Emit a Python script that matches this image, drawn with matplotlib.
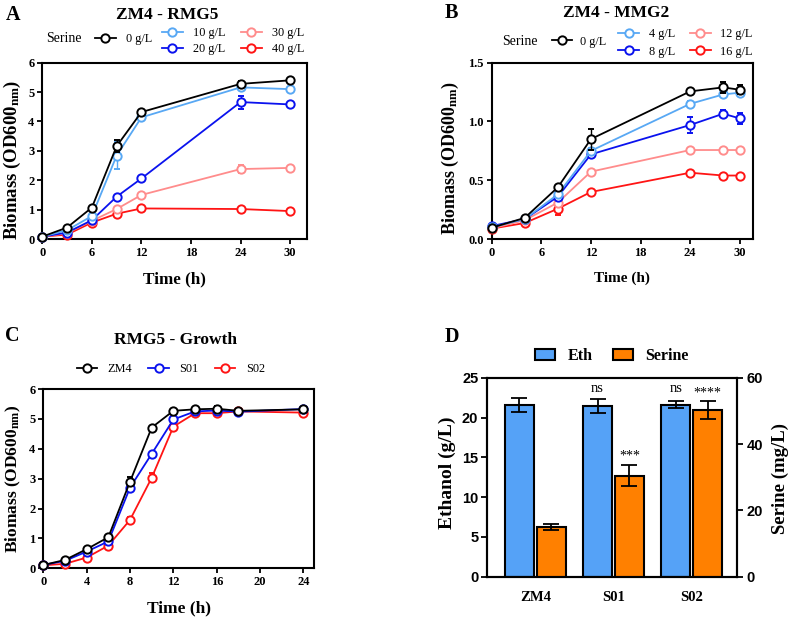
import matplotlib
matplotlib.use('Agg')
import matplotlib.pyplot as plt
from matplotlib.lines import Line2D
from matplotlib.patches import Patch
import numpy as np

plt.rcParams['font.family'] = ['Liberation Serif', 'DejaVu Serif']
plt.rcParams['mathtext.fontset'] = 'custom'
plt.rcParams['mathtext.rm'] = 'Liberation Serif'
plt.rcParams['mathtext.bf'] = 'Liberation Serif:bold'
plt.rcParams['mathtext.it'] = 'Liberation Serif:italic'

# ---------------- Data ----------------
# Panel A: ZM4 - RMG5
a_time = [0, 3, 6, 9, 12, 24, 30]
a_labels = ['0 g/L', '10 g/L', '20 g/L', '30 g/L', '40 g/L']
a_s0 = [0.08, 0.39, 1.07, 3.16, 4.32, 5.28, 5.40]
a_s10 = [0.08, 0.30, 0.78, 2.84, 4.14, 5.16, 5.10]
a_s20 = [0.08, 0.22, 0.64, 1.44, 2.06, 4.66, 4.58]
a_s30 = [0.08, 0.20, 0.62, 1.02, 1.50, 2.38, 2.42]
a_s40 = [0.08, 0.15, 0.56, 0.86, 1.04, 1.02, 0.95]
a_e0 = [0.02, 0.05, 0.05, 0.20, 0.05, 0.10, 0.05]
a_e10 = [0.02, 0.03, 0.05, 0.45, 0.05, 0.05, 0.03]
a_e20 = [0.02, 0.03, 0.05, 0.05, 0.05, 0.22, 0.05]
a_e30 = [0.02, 0.02, 0.03, 0.05, 0.08, 0.15, 0.05]
a_e40 = [0.02, 0.02, 0.03, 0.05, 0.05, 0.05, 0.05]

# Panel B: ZM4 - MMG2
b_time = [0, 4, 8, 12, 24, 28, 30]
b_labels = ['0 g/L', '4 g/L', '8 g/L', '12 g/L', '16 g/L']
b_s0 = [0.096, 0.18, 0.44, 0.85, 1.256, 1.29, 1.27]
b_s4 = [0.10, 0.17, 0.38, 0.75, 1.15, 1.23, 1.245]
b_s8 = [0.11, 0.17, 0.36, 0.72, 0.97, 1.066, 1.026]
b_s12 = [0.09, 0.16, 0.31, 0.573, 0.757, 0.757, 0.757]
b_s16 = [0.088, 0.136, 0.258, 0.40, 0.564, 0.54, 0.54]
b_e0 = [0.01, 0.01, 0.02, 0.09, 0.01, 0.05, 0.04]
b_e4 = [0.01, 0.01, 0.02, 0.02, 0.02, 0.02, 0.03]
b_e8 = [0.01, 0.01, 0.02, 0.02, 0.065, 0.03, 0.05]
b_e12 = [0.01, 0.01, 0.02, 0.01, 0.01, 0.01, 0.01]
b_e16 = [0.01, 0.01, 0.05, 0.01, 0.01, 0.01, 0.01]

# Panel C: RMG5 - Growth
c_time = [0, 2, 4, 6, 8, 10, 12, 14, 16, 18, 24]
c_labels = ['ZM4', 'S01', 'S02']
c_zm4 = [0.11, 0.28, 0.64, 1.04, 2.90, 4.71, 5.27, 5.32, 5.34, 5.27, 5.32]
c_s01 = [0.11, 0.25, 0.56, 0.90, 2.70, 3.83, 4.98, 5.25, 5.28, 5.24, 5.33]
c_s02 = [0.10, 0.15, 0.36, 0.76, 1.62, 3.03, 4.74, 5.19, 5.19, 5.25, 5.21]
c_ezm4 = [0.02, 0.03, 0.05, 0.05, 0.15, 0.05, 0.05, 0.05, 0.08, 0.05, 0.05]
c_es01 = [0.02, 0.03, 0.05, 0.05, 0.10, 0.05, 0.05, 0.05, 0.05, 0.05, 0.05]
c_es02 = [0.02, 0.03, 0.05, 0.05, 0.08, 0.15, 0.08, 0.05, 0.05, 0.05, 0.10]

# Panel D: ethanol and serine
d_strains = ['ZM4', 'S01', 'S02']
d_eth = [21.57, 21.44, 21.60]
d_eth_err = [0.85, 0.90, 0.45]
d_ser = [15.1, 30.5, 50.2]
d_ser_err = [0.9, 3.3, 2.7]
d_eth_sig = ['', 'ns', 'ns']
d_ser_sig = ['', '***', '****']

# ---------------- Style ----------------
W, H = 790, 620
fig = plt.figure(figsize=(7.9, 6.2), dpi=100)

def fx(px):
    return px / W

def fy(py):
    return 1 - py / H

def axes_px(l, t, r, b):
    return fig.add_axes([fx(l), fy(b), (r - l) / W, (b - t) / H])

C_BLACK = '#000000'
C_LBLUE = '#58a8f4'
C_BLUE = '#0a12ee'
C_PINK = '#ff8c8c'
C_RED = '#ff1414'

def style(ax, size=9, family=None):
    for s in ax.spines.values():
        s.set_linewidth(1.5)
    ax.tick_params(direction='out', length=3.6, width=1.3, labelsize=size, pad=2)
    for lab in ax.get_xticklabels() + ax.get_yticklabels():
        lab.set_fontweight('bold')
        if family:
            lab.set_family(family)

def series(ax, x, y, e, c, z):
    ax.errorbar(x, y, yerr=e, color=c, lw=1.3, marker='o', ms=6, mfc='white',
                mec=c, mew=1.4, capsize=2.2, elinewidth=1.0, capthick=1.0,
                clip_on=False, zorder=z)

def handle(c):
    return Line2D([], [], color=c, lw=1.3, marker='o', ms=6, mfc='white', mec=c, mew=1.4)

ylab = 'Biomass (OD600$_{\\mathbf{nm}}$)'

# ---------------- Panel A ----------------
axA = axes_px(42.3, 62.7, 306.7, 239)
for y, e, c, z in zip([a_s40, a_s30, a_s20, a_s10, a_s0],
                      [a_e40, a_e30, a_e20, a_e10, a_e0],
                      [C_RED, C_PINK, C_BLUE, C_LBLUE, C_BLACK],
                      [3, 4, 5, 6, 7]):
    series(axA, a_time, y, e, c, z)
axA.set_xlim(0, 32)
axA.set_ylim(0, 6)
axA.set_xticks([0, 6, 12, 18, 24, 30])
axA.set_yticks(range(0, 7))
style(axA, 9)
axA.set_ylabel(ylab, fontsize=13.5, fontweight='bold')
axA.yaxis.set_label_coords(-0.073, 0.45)
axA.set_xlabel('Time (h)', fontsize=12.3, fontweight='bold')
axA.xaxis.set_label_coords(0.5, -0.185)
fig.text(fx(167.5), fy(15), 'ZM4 - RMG5', fontsize=12.5, fontweight='bold', ha='center', va='center')
fig.text(fx(6), fy(15), 'A', fontsize=14.5, fontweight='bold', ha='left', va='center')
fig.text(fx(45.7), fy(39), 'Serine', fontsize=10, ha='left', va='center')
fig.legend([handle(C_BLACK)], [a_labels[0]], loc='center left',
           bbox_to_anchor=(fx(95), fy(39)), frameon=False, fontsize=8.8,
           handlelength=1.7, handletextpad=0.8, borderpad=0, borderaxespad=0)
fig.legend([handle(C_LBLUE), handle(C_BLUE), handle(C_PINK), handle(C_RED)],
           a_labels[1:], ncol=2, loc='center left',
           bbox_to_anchor=(fx(162), fy(41)), frameon=False, fontsize=8.8,
           handlelength=1.7, handletextpad=0.8, borderpad=0, borderaxespad=0,
           columnspacing=1.3, labelspacing=0.3)

# ---------------- Panel B ----------------
axB = axes_px(491.7, 62.7, 753, 239)
for y, e, c, z in zip([b_s16, b_s12, b_s8, b_s4, b_s0],
                      [b_e16, b_e12, b_e8, b_e4, b_e0],
                      [C_RED, C_PINK, C_BLUE, C_LBLUE, C_BLACK],
                      [3, 4, 5, 6, 7]):
    series(axB, b_time, y, e, c, z)
axB.set_xlim(0, 31.6)
axB.set_ylim(0, 1.5)
axB.set_xticks([0, 6, 12, 18, 24, 30])
axB.set_yticks([0, 0.5, 1.0, 1.5])
axB.set_yticklabels(['0.0', '0.5', '1.0', '1.5'])
style(axB, 9)
axB.set_ylabel(ylab, fontsize=13, fontweight='bold')
axB.yaxis.set_label_coords(-0.119, 0.46)
axB.set_xlabel('Time (h)', fontsize=11, fontweight='bold')
axB.xaxis.set_label_coords(0.5, -0.185)
fig.text(fx(615.7), fy(13), 'ZM4 - MMG2', fontsize=12.5, fontweight='bold', ha='center', va='center')
fig.text(fx(445), fy(13), 'B', fontsize=14.5, fontweight='bold', ha='left', va='center')
fig.text(fx(501.7), fy(41.7), 'Serine', fontsize=10, ha='left', va='center')
fig.legend([handle(C_BLACK)], [b_labels[0]], loc='center left',
           bbox_to_anchor=(fx(551.7), fy(41.7)), frameon=False, fontsize=8.8,
           handlelength=1.7, handletextpad=0.6, borderpad=0, borderaxespad=0)
fig.legend([handle(C_LBLUE), handle(C_BLUE), handle(C_PINK), handle(C_RED)],
           b_labels[1:], ncol=2, loc='center left',
           bbox_to_anchor=(fx(618.3), fy(43)), frameon=False, fontsize=8.8,
           handlelength=1.7, handletextpad=0.8, borderpad=0, borderaxespad=0,
           columnspacing=1.2, labelspacing=0.45)

# ---------------- Panel C ----------------
axC = axes_px(43.3, 389, 314.3, 568.3)
for y, e, c, z in zip([c_s02, c_s01, c_zm4], [c_es02, c_es01, c_ezm4],
                      [C_RED, C_BLUE, C_BLACK], [3, 4, 5]):
    series(axC, c_time, y, e, c, z)
axC.set_xlim(0, 25)
axC.set_ylim(0, 6)
axC.set_xticks(range(0, 25, 4))
axC.set_yticks(range(0, 7))
style(axC, 9)
axC.set_ylabel(ylab, fontsize=12.5, fontweight='bold')
axC.yaxis.set_label_coords(-0.076, 0.5)
axC.set_xlabel('Time (h)', fontsize=12.5, fontweight='bold')
axC.xaxis.set_label_coords(0.5, -0.181)
fig.text(fx(175), fy(340), 'RMG5 - Growth', fontsize=12.5, fontweight='bold', ha='center', va='center')
fig.text(fx(5), fy(336), 'C', fontsize=14.5, fontweight='bold', ha='left', va='center')
fig.legend([handle(C_BLACK), handle(C_BLUE), handle(C_RED)], c_labels, ncol=3,
           loc='center left', bbox_to_anchor=(fx(76.7), fy(369.3)), frameon=False,
           fontsize=8.8, handlelength=1.7, handletextpad=0.85, borderpad=0,
           borderaxespad=0, columnspacing=1.3)

# ---------------- Panel D ----------------
axD = axes_px(487.3, 377.7, 737.3, 576.7)
axD2 = axD.twinx()
C_BAR_BLUE = '#55a2f7'
C_BAR_ORANGE = '#ff8000'
xs = np.arange(len(d_strains))
bw = 0.375
off = 0.203
axD.bar(xs - off, d_eth, width=bw, color=C_BAR_BLUE, edgecolor='black', linewidth=1.5, zorder=2)
axD.errorbar(xs - off, d_eth, yerr=d_eth_err, fmt='none', ecolor='black', elinewidth=1.3,
             capsize=6, capthick=1.3, zorder=3)
axD2.bar(xs + off, d_ser, width=bw, color=C_BAR_ORANGE, edgecolor='black', linewidth=1.5, zorder=2)
axD2.errorbar(xs + off, d_ser, yerr=d_ser_err, fmt='none', ecolor='black', elinewidth=1.3,
              capsize=6, capthick=1.3, zorder=3)
axD.set_xlim(-0.614, 2.584)
axD.set_ylim(0, 25)
axD2.set_ylim(0, 60)
axD.set_yticks(range(0, 26, 5))
axD2.set_yticks([0, 20, 40, 60])
axD.set_xticks(xs)
axD.set_xticklabels(d_strains)
style(axD, 10.5, 'Liberation Sans')
style(axD2, 10.5, 'Liberation Sans')
axD.tick_params(axis='y', length=4.5)
axD2.tick_params(axis='y', length=4.5)
axD.tick_params(axis='x', length=0, pad=10)
for lab in axD.get_xticklabels():
    lab.set_family('Liberation Serif')
    lab.set_fontsize(10.5)
axD.set_ylabel('Ethanol (g/L)', fontsize=14, fontweight='bold')
axD.yaxis.set_label_coords(-0.125, 0.524)
axD2.set_ylabel('Serine (mg/L)', fontsize=13.5, fontweight='bold')
axD2.yaxis.set_label_coords(1.138, 0.491)
for x, s in zip(xs, d_eth_sig):
    if s:
        axD.text(x - off, 23.24, s, fontsize=10.5, ha='center', va='baseline')
for x, s in zip(xs, d_ser_sig):
    if s:
        axD2.text(x + off, {'***': 35.4, '****': 54.3}[s], s, fontsize=10, ha='center', va='baseline')
fig.text(fx(445), fy(336.7), 'D', fontsize=14.5, fontweight='bold', ha='left', va='center')
fig.legend([Patch(facecolor=C_BAR_BLUE, edgecolor='black', linewidth=1.5),
            Patch(facecolor=C_BAR_ORANGE, edgecolor='black', linewidth=1.5)],
           ['Eth', 'Serine'], ncol=2, loc='center left', bbox_to_anchor=(fx(535), fy(356)),
           frameon=False, prop={'weight': 'bold', 'size': 11.5}, handlelength=1.25,
           handleheight=0.69, handletextpad=0.77, columnspacing=1.31, borderpad=0,
           borderaxespad=0)

fig.savefig('out.png', dpi=100)
